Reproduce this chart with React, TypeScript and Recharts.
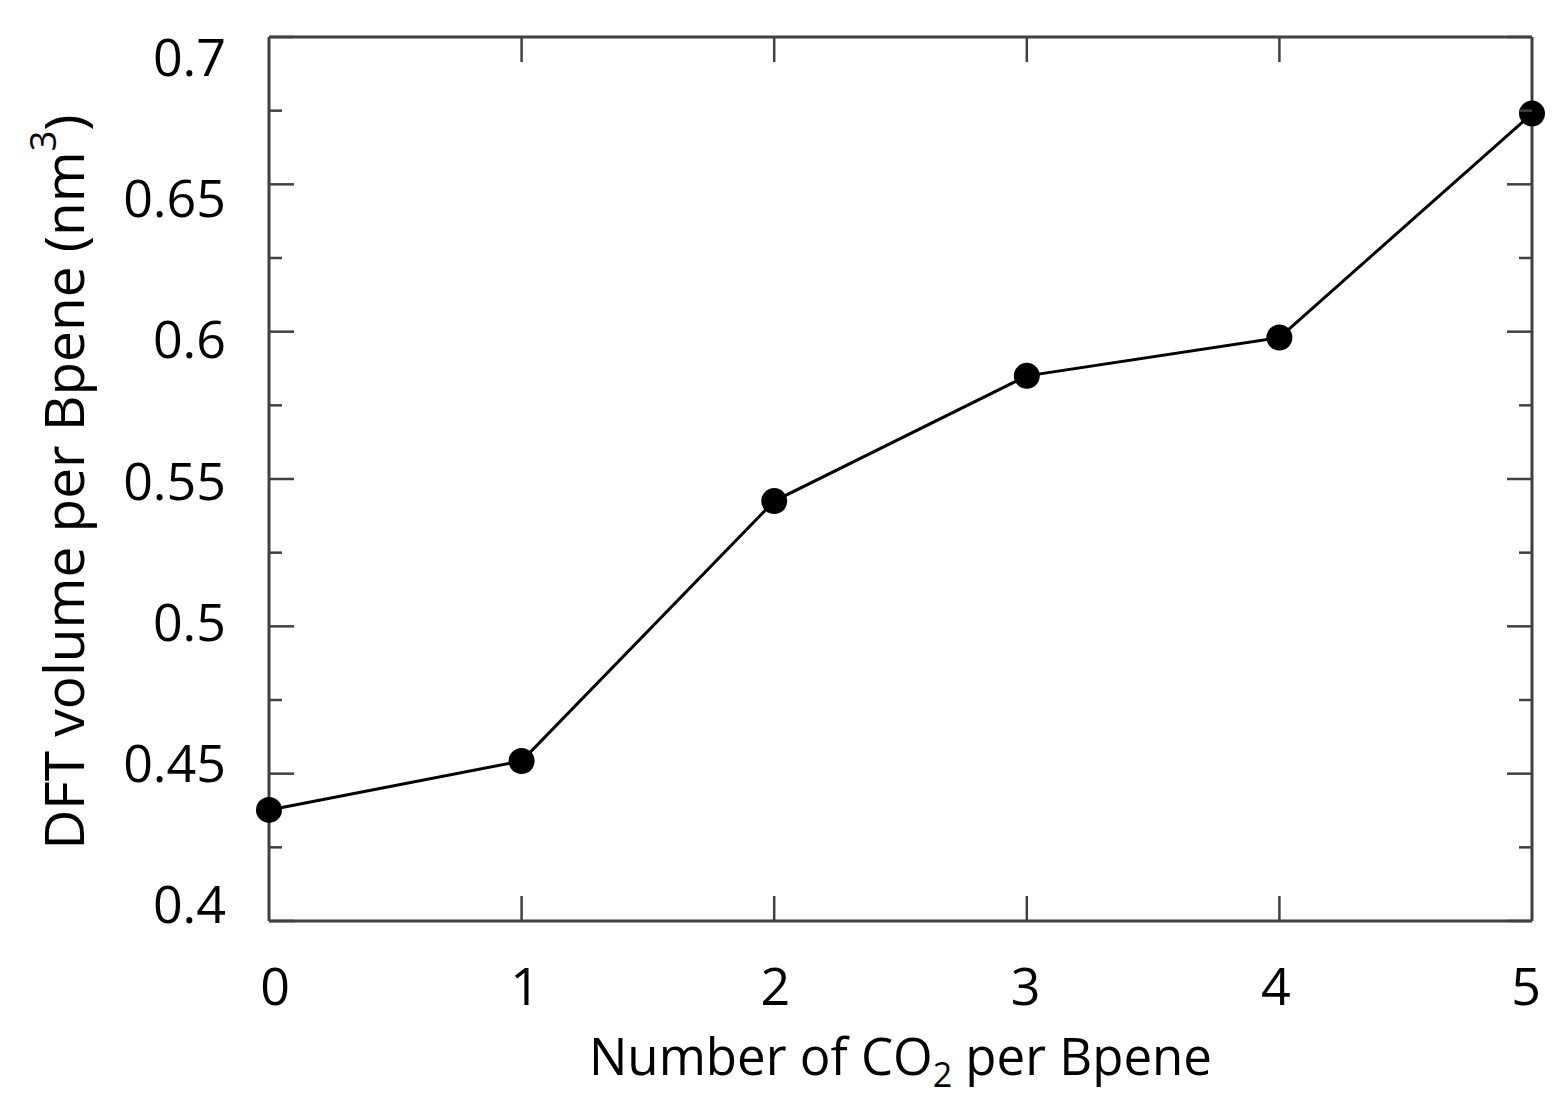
import React from 'react';
import { LineChart, Line, XAxis, YAxis } from 'recharts';

const co2Count = [0, 1, 2, 3, 4, 5];
const dftVolume = [0.4377, 0.4543, 0.5425, 0.585, 0.598, 0.674];
const xTicks = [0, 1, 2, 3, 4, 5];
const yTicks = [0.4, 0.425, 0.45, 0.475, 0.5, 0.525, 0.55, 0.575, 0.6, 0.625, 0.65, 0.675, 0.7];
const yLabels = ['0.4', '0.45', '0.5', '0.55', '0.6', '0.65', '0.7'];

const data = co2Count.map((c, i) => ({ n: c, v: dftVolume[i] }));

const FONT = '"Open Sans", sans-serif';
const AXIS_COLOR = '#404040';
const MAJOR = 25;
const MINOR = 13;

const fmt = (v: number) => String(Number(Number(v).toFixed(3)));
const isMajor = (v: number) => yLabels.includes(fmt(v));

const LeftTick = (props: any) => {
  const { x, y, payload } = props;
  const major = isMajor(payload.value);
  const ly = y + ((payload.value - 0.55) / 0.15) * 18.5;
  return (
    <g>
      <line x1={x} x2={x + (major ? MAJOR : MINOR)} y1={y} y2={y} stroke={AXIS_COLOR} strokeWidth={2.5} />
      {major && (
        <text x={x - 43} y={ly} textAnchor="end" dominantBaseline="central" fontFamily={FONT} fontSize={52} fill="#000">
          {fmt(payload.value)}
        </text>
      )}
    </g>
  );
};

const RightTick = (props: any) => {
  const { x, y, payload } = props;
  const major = isMajor(payload.value);
  return <line x1={x} x2={x - (major ? MAJOR : MINOR)} y1={y} y2={y} stroke={AXIS_COLOR} strokeWidth={2.5} />;
};

const BottomTick = (props: any) => {
  const { x, y, payload } = props;
  const inner = payload.value !== 0 && payload.value !== 5;
  const lx = x + (2.5 - payload.value) * 2.4;
  return (
    <g>
      {inner && <line x1={x} x2={x} y1={y} y2={y - MAJOR} stroke={AXIS_COLOR} strokeWidth={2.5} />}
      <text x={lx} y={y + 84} textAnchor="middle" fontFamily={FONT} fontSize={52} fill="#000">
        {payload.value}
      </text>
    </g>
  );
};

const TopTick = (props: any) => {
  const { x, y, payload } = props;
  const inner = payload.value !== 0 && payload.value !== 5;
  return inner ? <line x1={x} x2={x} y1={y} y2={y + MAJOR} stroke={AXIS_COLOR} strokeWidth={2.5} /> : <g />;
};

const XLabel = (props: any) => {
  const { viewBox } = props;
  const cx = viewBox.x + viewBox.width / 2;
  return (
    <text x={cx} y={viewBox.y + 154} textAnchor="middle" fontFamily={FONT} fontSize={51} fill="#000">
      Number of CO
      <tspan fontSize={34} dy={12}>2</tspan>
      <tspan dy={-12}> per Bpene</tspan>
    </text>
  );
};

const YLabel = (props: any) => {
  const { viewBox } = props;
  const cy = viewBox.y + viewBox.height / 2 + 3;
  const cx = 62;
  return (
    <text x={cx} y={cy} transform={`rotate(-90 ${cx} ${cy})`} textAnchor="middle" dominantBaseline="central" fontFamily={FONT} fontSize={55} fill="#000">
      DFT volume per Bpene (nm
      <tspan fontSize={36} dy={-20}>3</tspan>
      <tspan dy={20}>)</tspan>
    </text>
  );
};

export default function App() {
  return (
    <div style={{ position: 'absolute', left: 0, top: 0, width: 1566, height: 1111, background: '#fff' }}>
      <LineChart width={1566} height={1111} data={data} margin={{ top: 0, right: 0, bottom: 0, left: 0 }}>
        <XAxis
          xAxisId="bottom"
          dataKey="n"
          type="number"
          domain={[0, 5]}
          ticks={xTicks}
          orientation="bottom"
          height={190}
          axisLine={{ stroke: AXIS_COLOR, strokeWidth: 3 }}
          tickLine={false}
          tickSize={0}
          tickMargin={0}
          tick={<BottomTick />}
          label={<XLabel />}
          interval={0}
        />
        <XAxis
          xAxisId="top"
          dataKey="n"
          type="number"
          domain={[0, 5]}
          ticks={xTicks}
          orientation="top"
          height={37}
          axisLine={{ stroke: AXIS_COLOR, strokeWidth: 3 }}
          tickLine={false}
          tickSize={0}
          tickMargin={0}
          tick={<TopTick />}
          interval={0}
        />
        <YAxis
          yAxisId="left"
          type="number"
          domain={[0.4, 0.7]}
          ticks={yTicks}
          orientation="left"
          width={269}
          axisLine={{ stroke: AXIS_COLOR, strokeWidth: 3 }}
          tickLine={false}
          tickSize={0}
          tickMargin={0}
          tick={<LeftTick />}
          label={<YLabel />}
          interval={0}
          allowDataOverflow
        />
        <YAxis
          yAxisId="right"
          type="number"
          domain={[0.4, 0.7]}
          ticks={yTicks}
          orientation="right"
          width={34}
          axisLine={{ stroke: AXIS_COLOR, strokeWidth: 3 }}
          tickLine={false}
          tickSize={0}
          tickMargin={0}
          tick={<RightTick />}
          interval={0}
          allowDataOverflow
        />
        <Line
          xAxisId="bottom"
          yAxisId="left"
          dataKey="v"
          type="linear"
          stroke="#000"
          strokeWidth={3}
          dot={{ r: 13, fill: '#000', stroke: '#000', strokeWidth: 0 }}
          isAnimationActive={false}
        />
      </LineChart>
    </div>
  );
}
